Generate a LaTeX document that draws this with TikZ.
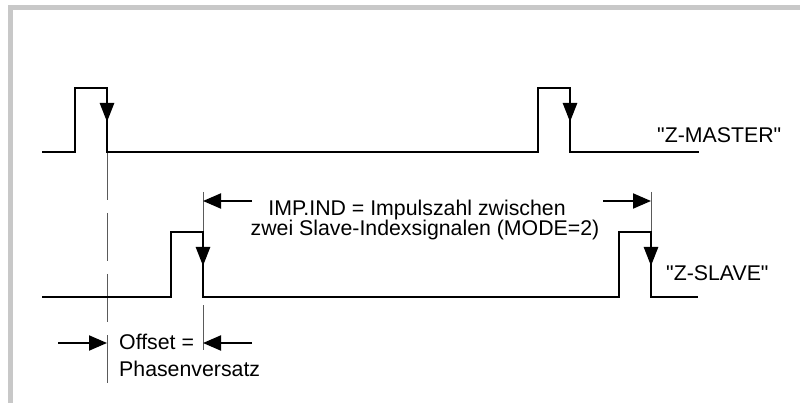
\documentclass[tikz,border=0pt]{standalone}
\usepackage{fontspec}
\setmainfont{Liberation Sans}[Ligatures=TeXOff]
\usetikzlibrary{arrows.meta}
\definecolor{framegray}{HTML}{C8C8C8}
\definecolor{guidegray}{HTML}{5A5A5A}
\tikzset{
  signal/.style={line width=2.6pt, line join=miter, line cap=butt},
  guide/.style={line width=1pt, draw=guidegray},
  dashguide/.style={guide, dash pattern=on 48pt off 13pt},
  edgetip/.style={line width=2.6pt, -{Triangle[length=19pt,width=14pt]}},
  dimarrow/.style={line width=2pt, -{Triangle[length=18pt,width=15pt]}},
  lbl/.style={inner sep=0pt, font=\fontsize{21.3}{24}\selectfont}
}
\begin{document}
\begin{tikzpicture}[x={(1pt,0)}, y={(0,-1pt)}]
\useasboundingbox (0,0) rectangle (800,403);
% frame
\fill[framegray] (8,5) rectangle (800,10);
\fill[framegray] (8,5) rectangle (13,403);

% named coordinates
\coordinate (m0) at (42,152);
\coordinate (m1r) at (75,88);
\coordinate (m1f) at (107,88);
\coordinate (m2r) at (538,88);
\coordinate (m2f) at (570,88);
\coordinate (mend) at (699,152);
\coordinate (s0) at (42,297);
\coordinate (s1r) at (171,232);
\coordinate (s1f) at (203,232);
\coordinate (s2r) at (619,232);
\coordinate (s2f) at (651,232);
\coordinate (send) at (698,297);

% guide lines
\draw[dashguide] (107,152) -- (107,383);
\draw[guide] (203,192) -- (s1f);
\draw[guide] (203,305) -- (203,350);
\draw[guide] (651,192) -- (s2f);

% master signal
\draw[signal] (m0) -- (75,152) -- (m1r) -- (m1f) -- (107,152) -- (538,152) -- (m2r) -- (m2f) -- (570,152) -- (mend);
\draw[edgetip] (m1f) -- (107,122);
\draw[edgetip] (m2f) -- (570,122);

% slave signal
\draw[signal] (s0) -- (171,297) -- (s1r) -- (s1f) -- (203,297) -- (619,297) -- (s2r) -- (s2f) -- (651,297) -- (send);
\draw[edgetip] (s1f) -- (203,266);
\draw[edgetip] (s2f) -- (651,266);

% labels
\node[lbl, anchor=base west] (master) at (657,143) {"Z-MASTER"};
\node[lbl, anchor=base west] (slave) at (666,280) {"Z-SLAVE"};
\node[lbl, anchor=base] (imp1) at (417,216) {IMP.IND = Impulszahl zwischen};
\node[lbl, anchor=base] (imp2) at (425,236) {zwei Slave-Indexsignalen (MODE=2)};
\node[lbl, anchor=base west] (off1) at (119,349) {Offset =};
\node[lbl, anchor=base west] (off2) at (119,376) {Phasenversatz};

% dimension arrows
\coordinate (ia) at (252,201);
\coordinate (ib) at (203,201);
\coordinate (ic) at (603,201);
\coordinate (id) at (651,201);
\draw[dimarrow] (ia) -- (ib);
\draw[dimarrow] (ic) -- (id);
\coordinate (oa) at (58,343);
\coordinate (ob) at (107,343);
\coordinate (oc) at (252,343);
\coordinate (od) at (203,343);
\draw[dimarrow] (oa) -- (ob);
\draw[dimarrow] (oc) -- (od);
\end{tikzpicture}
\end{document}
